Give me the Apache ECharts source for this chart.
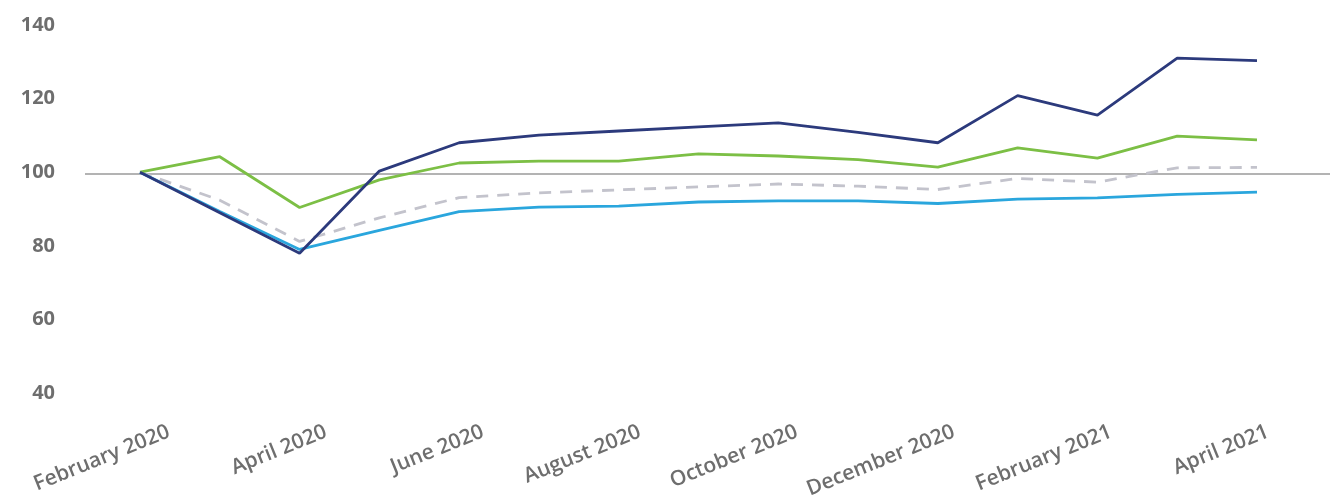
<!DOCTYPE html>
<html>
<head>
<meta charset="utf-8">
<script src="https://cdn.jsdelivr.net/npm/echarts@6/dist/echarts.min.js"></script>
<style>
  html, body { margin: 0; padding: 0; background: #fff; }
  #chart { width: 1339px; height: 503px; }
</style>
</head>
<body>
<div id="chart"></div>
<script>
// months (one point per month)
const months = [
  'February 2020', 'March 2020', 'April 2020', 'May 2020', 'June 2020',
  'July 2020', 'August 2020', 'September 2020', 'October 2020', 'November 2020',
  'December 2020', 'January 2021', 'February 2021', 'March 2021', 'April 2021'
]
// navy line
const navyValues = [100, 89, 78, 100.3, 108, 110.1, 111.2, 112.3, 113.4, 110.8, 108, 120.8, 115.5, 131, 130.3]
// green line
const greenValues = [100, 104.2, 90.4, 97.9, 102.5, 103, 103, 105, 104.4, 103.4, 101.4, 106.6, 103.8, 109.8, 108.8]
// light blue line
const blueValues = [100, 89.3, 79, 84.2, 89.3, 90.5, 90.8, 91.9, 92.2, 92.2, 91.5, 92.7, 93, 94, 94.6]
// grey dashed line
const greyValues = [100, 92.4, 81.2, 87.6, 93.1, 94.4, 95.2, 96, 96.8, 96.2, 95.3, 98.3, 97.3, 101.2, 101.3]
// horizontal reference level
const referenceLevel = [99.5, 99.5]
// y ticks
const yMin = 40
const yMax = 140
const yStep = 20

const chart = echarts.init(document.getElementById('chart'), null, { renderer: 'canvas' })

const labelColor = '#6e6e6e'
const fontFamily = '"Open Sans", "DejaVu Sans", sans-serif'

function lineSeries(data, color, dashed) {
  return {
    type: 'line',
    xAxisIndex: 0,
    yAxisIndex: 0,
    data: data,
    symbol: 'none',
    smooth: false,
    z: 3,
    lineStyle: {
      color: color,
      width: 2.8,
      type: dashed ? [12, 9] : 'solid'
    }
  }
}

const option = {
  backgroundColor: '#ffffff',
  animation: false,
  grid: [
    // data lines
    { left: 140, right: 82, top: 25, bottom: 110 },
    // reference line and y labels
    { left: 85, right: 9, top: 25, bottom: 110 },
    // month labels
    { left: 169, right: 71, top: 25, bottom: 110 }
  ],
  xAxis: [
    {
      gridIndex: 0,
      type: 'category',
      data: months,
      boundaryGap: false,
      show: false
    },
    {
      gridIndex: 1,
      type: 'category',
      data: ['', ''],
      boundaryGap: false,
      show: false
    },
    {
      gridIndex: 2,
      type: 'category',
      data: months,
      boundaryGap: false,
      axisLine: { show: false },
      axisTick: { show: false },
      axisLabel: {
        interval: 1,
        rotate: 22,
        margin: 38,
        color: labelColor,
        fontSize: 21,
        fontWeight: 600,
        fontFamily: fontFamily
      }
    }
  ],
  yAxis: [
    {
      gridIndex: 0,
      type: 'value',
      min: yMin,
      max: yMax,
      interval: yStep,
      show: false
    },
    {
      gridIndex: 1,
      type: 'value',
      min: yMin,
      max: yMax,
      interval: yStep,
      axisLine: { show: false },
      axisTick: { show: false },
      splitLine: { show: false },
      axisLabel: {
        margin: 30,
        color: labelColor,
        fontSize: 20,
        fontWeight: 'bold',
        fontFamily: fontFamily
      }
    },
    {
      gridIndex: 2,
      type: 'value',
      min: yMin,
      max: yMax,
      show: false
    }
  ],
  series: [
    {
      type: 'line',
      xAxisIndex: 1,
      yAxisIndex: 1,
      data: referenceLevel,
      symbol: 'none',
      z: 1,
      lineStyle: { color: '#9a9a9a', width: 1.5 }
    },
    lineSeries(greyValues, '#c3c3cc', true),
    lineSeries(blueValues, '#2aa6dd', false),
    lineSeries(greenValues, '#7cbf45', false),
    lineSeries(navyValues, '#2c3a7c', false)
  ]
}

chart.setOption(option)
</script>
</body>
</html>
